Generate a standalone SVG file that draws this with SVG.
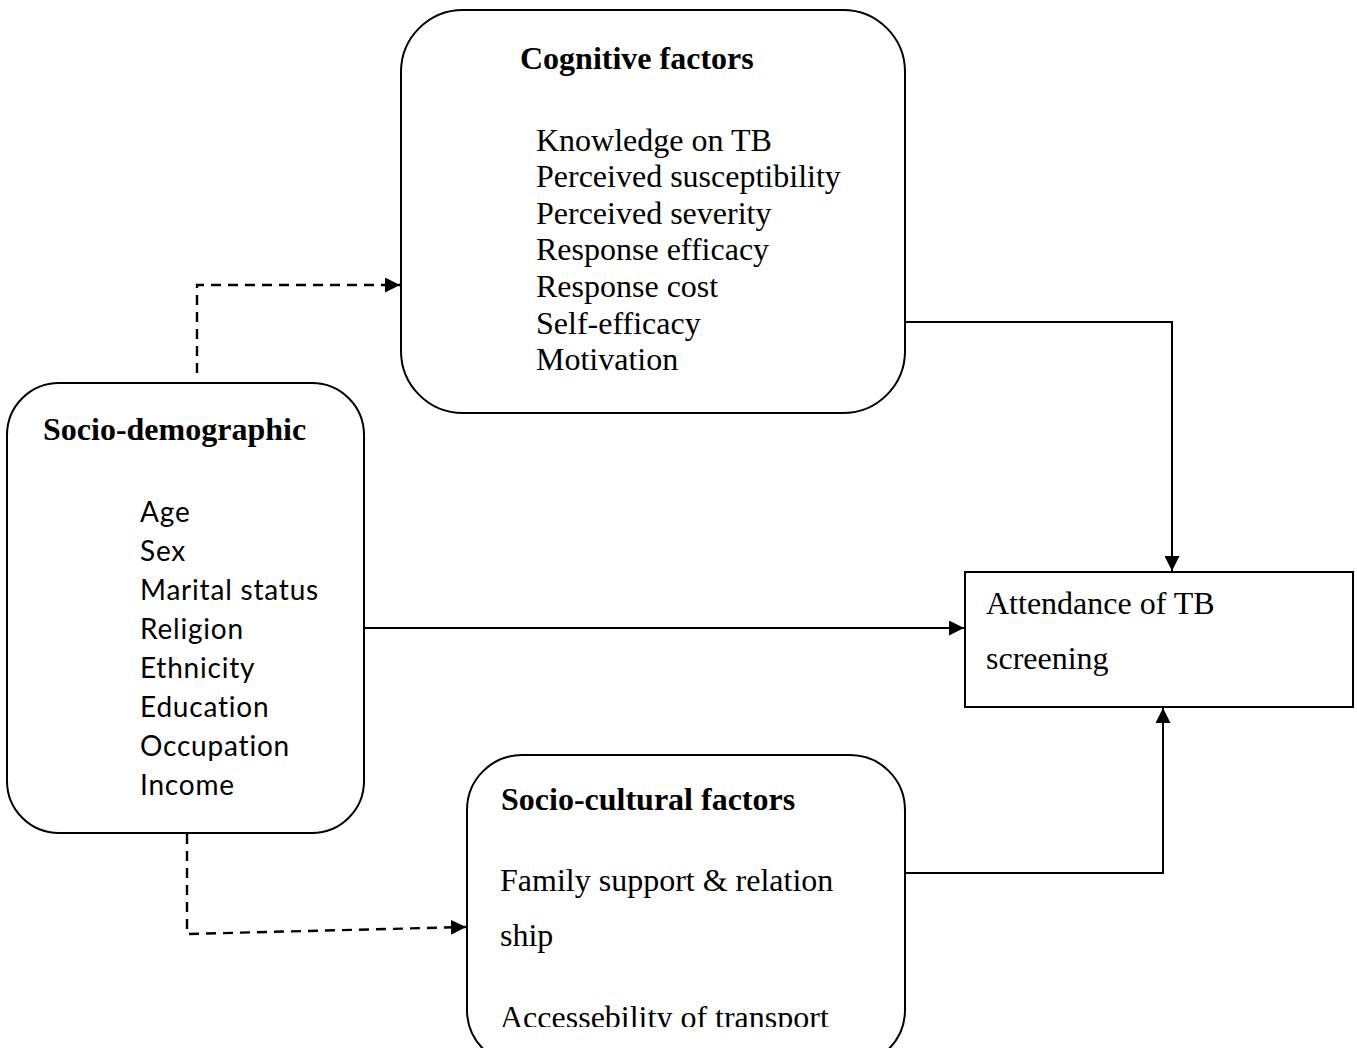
<svg xmlns="http://www.w3.org/2000/svg" width="1357" height="1048" viewBox="0 0 1357 1048">
<defs>
<style>
.box{fill:#fff;stroke:#000;stroke-width:2}
.ser{font-family:"Liberation Serif","Times New Roman",serif;font-size:32px;fill:#000}
.bold{font-weight:bold}
.sans{font-family:Lato,"Open Sans",sans-serif;font-size:28px;letter-spacing:0.8px;fill:#000}
.con{fill:none;stroke:#000;stroke-width:2}
.dash{stroke-width:2.4;stroke-dasharray:10 7}
</style>
<marker id="ah" viewBox="0 0 10 10" refX="10" refY="5" markerWidth="15" markerHeight="15" markerUnits="userSpaceOnUse" orient="auto">
<path d="M0,0 L10,5 L0,10 z" fill="#000"/>
</marker>
<clipPath id="clipSC"><rect x="467" y="755" width="440" height="272"/></clipPath>
</defs>
<rect width="1357" height="1048" fill="#fff"/>
<g id="connectors">
<polyline class="con dash" points="197,373 197,285 400,285" marker-end="url(#ah)"/>
<polyline class="con dash" points="187,834 187,934 466,927" marker-end="url(#ah)"/>
<polyline class="con" points="905,322 1172,322 1172,571" marker-end="url(#ah)"/>
<polyline class="con" points="364,628 964,628" marker-end="url(#ah)"/>
<polyline class="con" points="905,873 1163,873 1163,708" marker-end="url(#ah)"/>
</g>
<g id="cognitive">
<rect class="box" x="401" y="10" width="504" height="403" rx="62" ry="62"/>
<text class="ser bold" x="520" y="69">Cognitive factors</text>
<text class="ser" x="536" y="151">Knowledge on TB</text>
<text class="ser" x="536" y="187">Perceived susceptibility</text>
<text class="ser" x="536" y="224">Perceived severity</text>
<text class="ser" x="536" y="260">Response efficacy</text>
<text class="ser" x="536" y="297">Response cost</text>
<text class="ser" x="536" y="334">Self-efficacy</text>
<text class="ser" x="536" y="370">Motivation</text>
</g>
<g id="sociodemographic">
<rect class="box" x="7" y="383" width="357" height="450" rx="52" ry="52"/>
<text class="ser bold" x="43" y="440">Socio-demographic</text>
<text class="sans" x="140" y="522">Age</text>
<text class="sans" x="140" y="561">Sex</text>
<text class="sans" x="140" y="600">Marital status</text>
<text class="sans" x="140" y="639">Religion</text>
<text class="sans" x="140" y="678">Ethnicity</text>
<text class="sans" x="140" y="717">Education</text>
<text class="sans" x="140" y="756">Occupation</text>
<text class="sans" x="140" y="795">Income</text>
</g>
<g id="attendance">
<rect class="box" x="965" y="572" width="388" height="135"/>
<text class="ser" x="986" y="614">Attendance of TB</text>
<text class="ser" x="986" y="669">screening</text>
</g>
<g id="sociocultural">
<rect class="box" x="467" y="755" width="438" height="310" rx="55" ry="55"/>
<text class="ser bold" x="501" y="810">Socio-cultural factors</text>
<text class="ser" x="500" y="891">Family support &amp; relation</text>
<text class="ser" x="500" y="946">ship</text>
<text class="ser" x="500" y="1028" clip-path="url(#clipSC)">Accessebility of transport</text>
</g>
</svg>
